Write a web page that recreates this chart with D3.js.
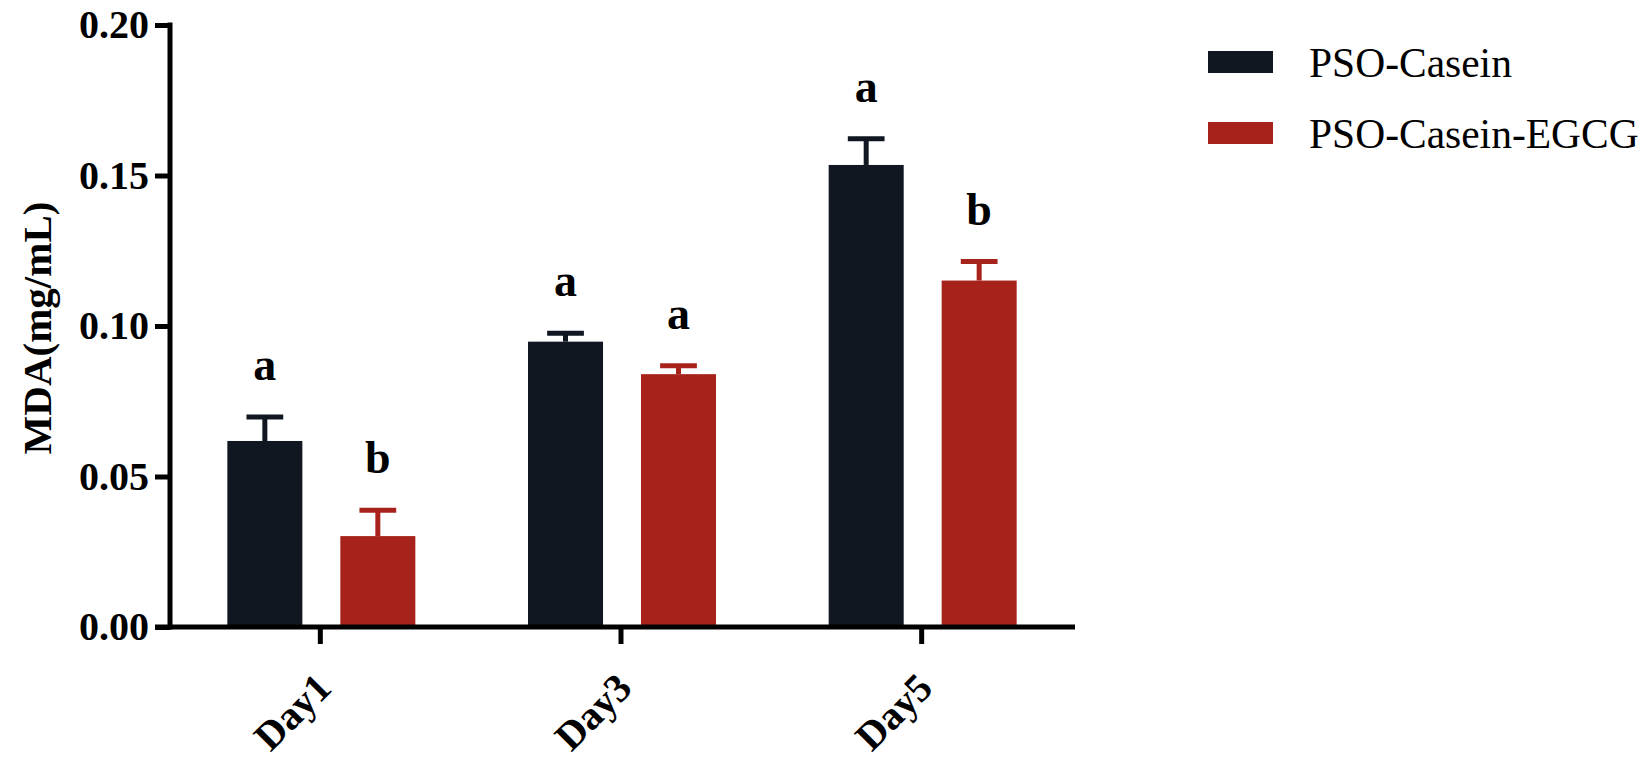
<!DOCTYPE html>
<html>
<head>
<meta charset="utf-8">
<script src="https://cdn.jsdelivr.net/npm/d3@7/dist/d3.min.js"></script>
<style>
  html, body { margin: 0; padding: 0; background: #ffffff; }
  svg { display: block; }
  text { font-family: "Liberation Serif", "Times New Roman", Times, serif; }
</style>
</head>
<body>
<svg id="chart" width="1648" height="766"></svg>
<script>
const categories = ["Day1", "Day3", "Day5"];
const seriesNames = ["PSO-Casein", "PSO-Casein-EGCG"];
const caseinMeans = [0.0618, 0.0948, 0.1535];
const caseinErrors = [0.0080, 0.0028, 0.0087];
const egcgMeans = [0.0302, 0.0840, 0.1151];
const egcgErrors = [0.0086, 0.0028, 0.0063];
const caseinLetters = ["a", "a", "a"];
const egcgLetters = ["b", "a", "b"];
const yTickValues = [0, 0.05, 0.10, 0.15, 0.20];
const yTickLabels = ["0.00", "0.05", "0.10", "0.15", "0.20"];
const colors = ["#111721", "#a8221c"];

const rows = [];
categories.forEach((c, i) => {
  rows.push({cat: c, series: seriesNames[0], mean: caseinMeans[i], err: caseinErrors[i], letter: caseinLetters[i]});
  rows.push({cat: c, series: seriesNames[1], mean: egcgMeans[i], err: egcgErrors[i], letter: egcgLetters[i]});
});

const FONT = "Liberation Serif, Times New Roman, serif";
const svg = d3.select("#chart");
const plotLeft = 170, plotRight = 1072, plotTop = 25, plotBottom = 627;

const y = d3.scaleLinear().domain([0, 0.2]).range([plotBottom, plotTop]);
const x0 = d3.scaleBand().domain(categories).range([plotLeft, plotRight]).padding(0);
const bw = x0.bandwidth();
const x1 = d3.scaleBand().domain(seriesNames).range([bw * 0.1907, bw * 0.816]).paddingInner(0.336).paddingOuter(0);
const color = d3.scaleOrdinal().domain(seriesNames).range(colors);

// bars
const g = svg.append("g");
g.selectAll("rect.bar").data(rows).join("rect")
  .attr("class", "bar")
  .attr("x", d => x0(d.cat) + x1(d.series))
  .attr("width", x1.bandwidth())
  .attr("y", d => y(d.mean))
  .attr("height", d => y(0) - y(d.mean))
  .attr("fill", d => color(d.series));

// error bars (upper only)
const capW = x1.bandwidth() * 0.49;
g.selectAll("line.stem").data(rows).join("line")
  .attr("x1", d => x0(d.cat) + x1(d.series) + x1.bandwidth() / 2)
  .attr("x2", d => x0(d.cat) + x1(d.series) + x1.bandwidth() / 2)
  .attr("y1", d => y(d.mean))
  .attr("y2", d => y(d.mean + d.err))
  .attr("stroke", d => color(d.series))
  .attr("stroke-width", 5);
g.selectAll("line.cap").data(rows).join("line")
  .attr("x1", d => x0(d.cat) + x1(d.series) + x1.bandwidth() / 2 - capW / 2)
  .attr("x2", d => x0(d.cat) + x1(d.series) + x1.bandwidth() / 2 + capW / 2)
  .attr("y1", d => y(d.mean + d.err))
  .attr("y2", d => y(d.mean + d.err))
  .attr("stroke", d => color(d.series))
  .attr("stroke-width", 5);

// significance letters
g.selectAll("text.sig").data(rows).join("text")
  .attr("x", d => x0(d.cat) + x1(d.series) + x1.bandwidth() / 2)
  .attr("y", d => y(d.mean + d.err) - 37)
  .attr("text-anchor", "middle")
  .attr("font-size", 46)
  .attr("font-weight", "bold")
  .attr("font-family", FONT)
  .attr("fill", "#000")
  .text(d => d.letter);

// y axis
const yAxis = d3.axisLeft(y).tickValues(yTickValues)
  .tickFormat((d, i) => yTickLabels[i]).tickSize(15).tickSizeOuter(0).tickPadding(6);
const ya = svg.append("g").attr("transform", `translate(${plotLeft},0)`).call(yAxis);
ya.attr("font-family", FONT);
ya.select(".domain").attr("stroke", "#000").attr("stroke-width", 5)
  .attr("d", `M0,${plotBottom + 2.5}V${plotTop - 2.5}`);
ya.selectAll(".tick line").attr("stroke", "#000").attr("stroke-width", 5);
ya.selectAll(".tick text").attr("font-size", 40).attr("font-weight", "bold")
  .attr("fill", "#000").attr("font-family", FONT);

// x axis
const xAxis = d3.axisBottom(x0).tickSize(17).tickSizeOuter(0).tickFormat(d => d);
const xa = svg.append("g").attr("transform", `translate(0,${plotBottom})`).call(xAxis);
xa.attr("font-family", FONT);
xa.select(".domain").attr("stroke", "#000").attr("stroke-width", 5)
  .attr("d", `M${plotLeft - 15},0H${plotRight + 3}`);
xa.selectAll(".tick line").attr("stroke", "#000").attr("stroke-width", 5);
xa.selectAll(".tick text")
  .attr("font-size", 40).attr("font-weight", "bold").attr("fill", "#000")
  .attr("font-family", FONT)
  .attr("text-anchor", "end")
  .attr("dy", 0)
  .attr("y", 0)
  .attr("transform", "translate(13,63) rotate(-45)");

// y axis title
svg.append("text")
  .attr("transform", `translate(51,328) rotate(-90)`)
  .attr("text-anchor", "middle")
  .attr("font-size", 41)
  .attr("font-weight", "bold")
  .attr("font-family", FONT)
  .attr("fill", "#000")
  .text("MDA(mg/mL)");

// legend
const legend = svg.append("g").attr("transform", "translate(1208,51)");
const li = legend.selectAll("g").data(seriesNames).join("g")
  .attr("transform", (d, i) => `translate(0,${i * 71})`);
li.append("rect").attr("width", 65).attr("height", 22).attr("fill", d => color(d));
li.append("text").attr("x", 101).attr("y", 26).attr("font-size", 41.5)
  .attr("font-family", FONT)
  .attr("fill", "#000").text(d => d);
</script>
</body>
</html>
